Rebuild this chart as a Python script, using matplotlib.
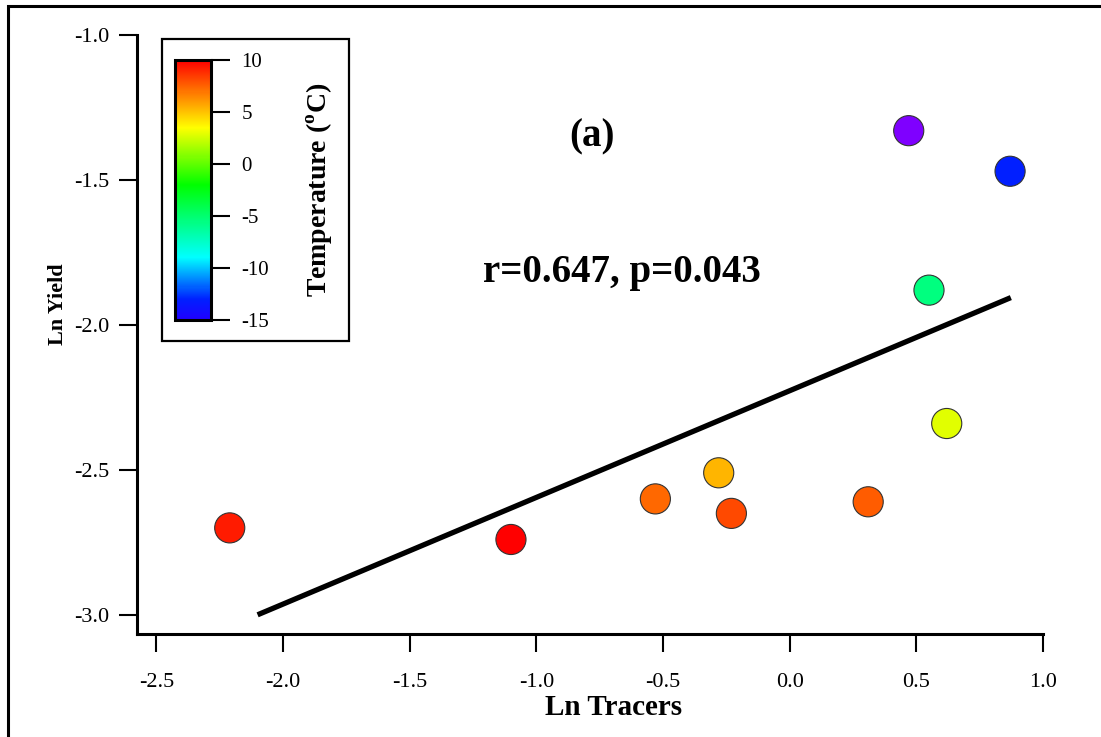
import numpy as np
import matplotlib
matplotlib.use("Agg")
import matplotlib.pyplot as plt
from matplotlib.colors import LinearSegmentedColormap, Normalize
from matplotlib.patches import Rectangle

plt.rcParams['font.family'] = ['Liberation Serif', 'DejaVu Serif']
plt.rcParams['mathtext.fontset'] = 'custom'
plt.rcParams['mathtext.rm'] = 'Liberation Serif'
plt.rcParams['mathtext.bf'] = 'Liberation Serif:bold'
plt.rcParams['axes.unicode_minus'] = False

# data
ln_tracers = [-2.21, -1.10, -0.53, -0.28, -0.23, 0.31, 0.62, 0.55, 0.87, 0.47]
ln_yield = [-2.70, -2.74, -2.60, -2.51, -2.65, -2.61, -2.34, -1.88, -1.47, -1.33]
temperature = [9.3, 10.0, 7.3, 5.4, 8.1, 7.6, 2.8, -5.5, -13.0, -18.0]

fit_x = [-2.10, 0.873]
fit_slope = 0.368
fit_intercept = -2.227

cbar_ticks = [-15, -10, -5, 0, 5, 10]
x_ticks = [-2.5, -2.0, -1.5, -1.0, -0.5, 0.0, 0.5, 1.0]
y_ticks = [-3.0, -2.5, -2.0, -1.5, -1.0]

# rainbow-like colour scale of the colorbar (-15 .. 10)
cmap = LinearSegmentedColormap.from_list('temp', [
    (0.00, '#2000ff'), (0.08, '#0020ff'), (0.24, '#00ffff'),
    (0.52, '#00ff00'), (0.74, '#ffff00'), (1.00, '#ff0000')])
cmap.set_under('#7f00ff')
norm = Normalize(vmin=-15, vmax=10)

W, H = 1101, 737
fig = plt.figure(figsize=(W / 100, H / 100), dpi=100)

def fx(px):
    return px / W

def fy(py):
    return 1 - py / H

ax = fig.add_axes([fx(137), fy(634), fx(1043) - fx(137), fy(35) - fy(634)])
ax.set_xlim(-2.576, 1.0)
ax.set_ylim(-3.066, -1.0)

ax.scatter(ln_tracers, ln_yield, c=temperature, cmap=cmap, norm=norm,
           s=470, edgecolors='#333333', linewidths=0.8, zorder=3)

fx_arr = np.array(fit_x)
ax.plot(fx_arr, fit_slope * fx_arr + fit_intercept, color='black', lw=3.8,
        solid_capstyle='butt', zorder=2)

for s in ['top', 'right']:
    ax.spines[s].set_visible(False)
for s in ['left', 'bottom']:
    ax.spines[s].set_linewidth(2.2)

ax.set_xticks(x_ticks)
ax.set_yticks(y_ticks)
ax.set_xticklabels(['%.1f' % v for v in x_ticks])
ax.set_yticklabels(['%.1f' % v for v in y_ticks])
ax.tick_params(axis='x', direction='out', length=13, width=1.5, pad=15, labelsize=16)
ax.tick_params(axis='y', direction='out', length=13, width=1.5, pad=7, labelsize=16)

ax.set_xlabel('Ln Tracers', fontsize=21, fontweight='bold')
ax.xaxis.set_label_coords(0.526, -0.101)
ax.set_ylabel('Ln Yield', fontsize=16, fontweight='bold')
ax.yaxis.set_label_coords(-0.076, 0.55)

ax.text(-0.78, -1.35, '(a)', fontsize=28, fontweight='bold', ha='center', va='center')
ax.text(-0.66, -1.82, 'r=0.647, p=0.043', fontsize=28, fontweight='bold',
        ha='center', va='center')

# colorbar inset with its frame
fig.patches.append(Rectangle((fx(162), fy(341)), fx(349) - fx(162), fy(39) - fy(341),
                             transform=fig.transFigure, fill=False, lw=1.6,
                             edgecolor='black', zorder=5))
cax = fig.add_axes([fx(175), fy(320), fx(211) - fx(175), fy(60) - fy(320)])
sm = plt.cm.ScalarMappable(cmap=cmap, norm=norm)
cb = fig.colorbar(sm, cax=cax, ticks=cbar_ticks)
cb.outline.set_linewidth(2.2)
cax.tick_params(length=14, width=1.5, pad=8, labelsize=15)
cb.set_label(r'Temperature ($^{\mathbf{o}}$C)', fontsize=20, fontweight='bold')
cax.yaxis.set_label_coords(3.6, 0.5)

# figure border (left and top edges visible)
fig.patches.append(Rectangle((fx(8), fy(760)), 1.2, fy(6) - fy(760),
                             transform=fig.transFigure, fill=False, lw=2.2,
                             edgecolor='black', zorder=5))

fig.savefig('out.png', dpi=100)
